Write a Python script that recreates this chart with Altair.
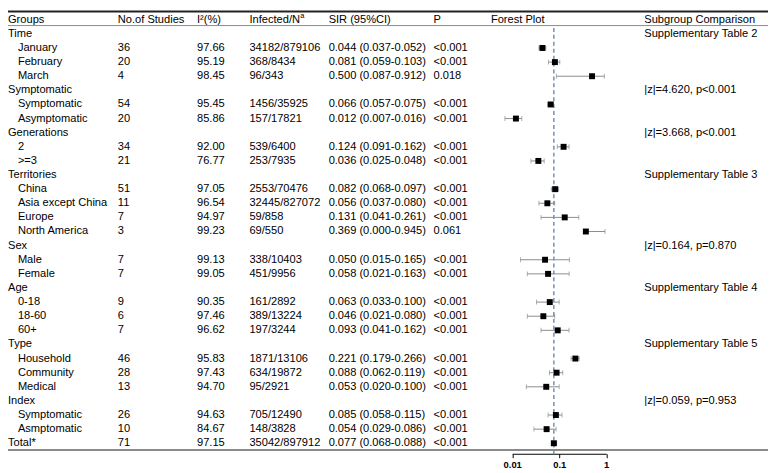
import altair as alt
import pandas as pd

labels = ["Time", "January", "February", "March",
          "Symptomatic", "Symptomatic", "Asymptomatic",
          "Generations", "2", ">=3",
          "Territories", "China", "Asia except China", "Europe", "North America",
          "Sex", "Male", "Female",
          "Age", "0-18", "18-60", "60+",
          "Type", "Household", "Community", "Medical",
          "Index", "Symptomatic", "Asmptomatic",
          "Total*"]
level = [0, 1, 1, 1, 0, 1, 1, 0, 1, 1, 0, 1, 1, 1, 1, 0, 1, 1, 0, 1, 1, 1, 0, 1, 1, 1, 0, 1, 1, 0]
n_studies = ["", "36", "20", "4", "", "54", "20", "", "34", "21", "", "51", "11", "7", "3",
             "", "7", "7", "", "9", "6", "7", "", "46", "28", "13", "", "26", "10", "71"]
i2 = ["", "97.66", "95.19", "98.45", "", "95.45", "85.86", "", "92.00", "76.77",
      "", "97.05", "96.54", "94.97", "99.23", "", "99.13", "99.05", "", "90.35", "97.46", "96.62",
      "", "95.83", "97.43", "94.70", "", "94.63", "84.67", "97.15"]
infected = ["", "34182/879106", "368/8434", "96/343", "", "1456/35925", "157/17821", "",
            "539/6400", "253/7935", "", "2553/70476", "32445/827072", "59/858", "69/550",
            "", "338/10403", "451/9956", "", "161/2892", "389/13224", "197/3244",
            "", "1871/13106", "634/19872", "95/2921", "", "705/12490", "148/3828", "35042/897912"]
est = [None, 0.044, 0.081, 0.500, None, 0.066, 0.012, None, 0.124, 0.036,
       None, 0.082, 0.056, 0.131, 0.369, None, 0.050, 0.058, None, 0.063, 0.046, 0.093,
       None, 0.221, 0.088, 0.053, None, 0.085, 0.054, 0.077]
lo = [None, 0.037, 0.059, 0.087, None, 0.057, 0.007, None, 0.091, 0.025,
      None, 0.068, 0.037, 0.041, 0.000, None, 0.015, 0.021, None, 0.033, 0.021, 0.041,
      None, 0.179, 0.062, 0.020, None, 0.058, 0.029, 0.068]
hi = [None, 0.052, 0.103, 0.912, None, 0.075, 0.016, None, 0.162, 0.048,
      None, 0.097, 0.080, 0.261, 0.945, None, 0.165, 0.163, None, 0.100, 0.080, 0.162,
      None, 0.266, 0.119, 0.100, None, 0.115, 0.086, 0.088]
p_vals = ["", "<0.001", "<0.001", "0.018", "", "<0.001", "<0.001", "", "<0.001", "<0.001",
          "", "<0.001", "<0.001", "<0.001", "0.061", "", "<0.001", "<0.001", "", "<0.001", "<0.001", "<0.001",
          "", "<0.001", "<0.001", "<0.001", "", "<0.001", "<0.001", "<0.001"]
comparison = ["Supplementary Table 2", "", "", "", "|z|=4.620, p<0.001", "", "",
              "|z|=3.668, p<0.001", "", "", "Supplementary Table 3", "", "", "", "",
              "|z|=0.164, p=0.870", "", "", "Supplementary Table 4", "", "", "",
              "Supplementary Table 5", "", "", "", "|z|=0.059, p=0.953", "", "", ""]
headers = ["Groups", "No.of Studies", "I\u00b2(%)", "Infected/N", "SIR (95%CI)", "P", "Forest Plot", "Subgroup Comparison"]
axis_ticks = [0.01, 0.1, 1]

rows = []
for i in range(len(labels)):
    e, l, h = est[i], lo[i], hi[i]
    sir = "" if e is None else f"{e:.3f} ({l:.3f}-{h:.3f})"
    rows.append({
        "row": i, "label": labels[i], "level": level[i], "n": n_studies[i], "i2": i2[i],
        "inf": infected[i], "sir": sir, "p": p_vals[i], "comp": comparison[i],
        "est": e, "hi": h,
        "lo_line": None if e is None else (l if l > 0 else e),
        "lo_cap": None if (l is None or l <= 0) else l,
    })
df = pd.DataFrame(rows)

W, H = 768, 448
FONT = "Liberation Sans"
FS = 11.2
Y = alt.Y("row:Q", scale=alt.Scale(domain=[0, 29], range=[23.7, 437.4], nice=False, zero=False), axis=None)
XS = alt.Scale(type="log", domain=[0.01, 1], range=[509.5, 604.5], nice=False)
XA = alt.Axis(values=axis_ticks, format="~g", title="", grid=False, labelFont=FONT,
              labelFontWeight="bold", labelFontSize=9.5, labelColor="black", tickColor="black",
              domainColor="black", tickSize=4, labelPadding=2, labelFlush=False)

base = alt.Chart(df)

def col_text(field, xpos, flt=None):
    c = base
    if flt is not None:
        c = c.transform_filter(flt)
    return c.mark_text(align="left", baseline="middle", font=FONT, fontSize=FS, color="black").encode(
        x=alt.value(xpos), y=Y, text=f"{field}:N")

texts = [
    col_text("label", 0, "datum.level == 0"),
    col_text("label", 10, "datum.level == 1"),
    col_text("n", 111),
    col_text("i2", 191),
    col_text("inf", 244),
    col_text("sir", 324),
    col_text("p", 430),
    col_text("comp", 643),
]

hx = [0, 111, 191, 244, 324, 430, 488, 643]
one = pd.DataFrame({"k": [0]})
head_layers = []
for t, xp in zip(headers, hx):
    head_layers.append(alt.Chart(one).mark_text(align="left", baseline="middle", font=FONT, fontSize=FS,
                                                color="black", text=t).encode(x=alt.value(xp), y=alt.value(9.4)))
head_layers.append(alt.Chart(one).mark_text(align="left", baseline="middle", font=FONT, fontSize=7.5,
                                            color="black", text="a").encode(x=alt.value(295.2), y=alt.value(5.8)))

total_df = pd.DataFrame({"v": [est[-1]]})
dashed = alt.Chart(total_df).mark_rule(color="#5b80aa", strokeWidth=1.3, strokeDash=[4, 3]).encode(
    x=alt.X("v:Q", scale=XS, axis=XA), y=alt.value(17.7), y2=alt.value(451))

whisk = base.mark_rule(color="#8c8c8c", strokeWidth=1).encode(
    x=alt.X("lo_line:Q", scale=XS, axis=XA), x2="hi:Q", y=Y)
cap_lo = base.mark_tick(orient="vertical", size=5, thickness=1, color="#8c8c8c").encode(
    x=alt.X("lo_cap:Q", scale=XS, axis=XA), y=Y)
cap_hi = base.mark_tick(orient="vertical", size=5, thickness=1, color="#8c8c8c").encode(
    x=alt.X("hi:Q", scale=XS, axis=XA), y=Y)
squares = base.mark_square(size=36, color="black", filled=True, opacity=1).encode(
    x=alt.X("est:Q", scale=XS, axis=XA), y=Y)

top_line = alt.Chart(one).mark_rule(color="#222222", strokeWidth=2).encode(
    x=alt.value(0), x2=alt.value(W), y=alt.value(1))
head_line = alt.Chart(one).mark_rule(color="#8a8a8a", strokeWidth=1).encode(
    x=alt.value(0), x2=alt.value(W), y=alt.value(15.3))
bottom_line = alt.Chart(one).mark_rule(color="#8a8a8a", strokeWidth=2).encode(
    x=alt.value(0), x2=alt.value(W), y=alt.value(444.3))

chart = alt.layer(
    dashed, whisk, cap_lo, cap_hi, squares, *texts, *head_layers, top_line, head_line, bottom_line
).properties(
    width=W, height=H,
    autosize=alt.AutoSizeParams(type="none"),
    padding={"left": 0, "top": 0, "right": 0, "bottom": 17},
).configure_view(stroke="transparent")

chart.save("out.html", embed_options={"renderer": "svg", "actions": False})
